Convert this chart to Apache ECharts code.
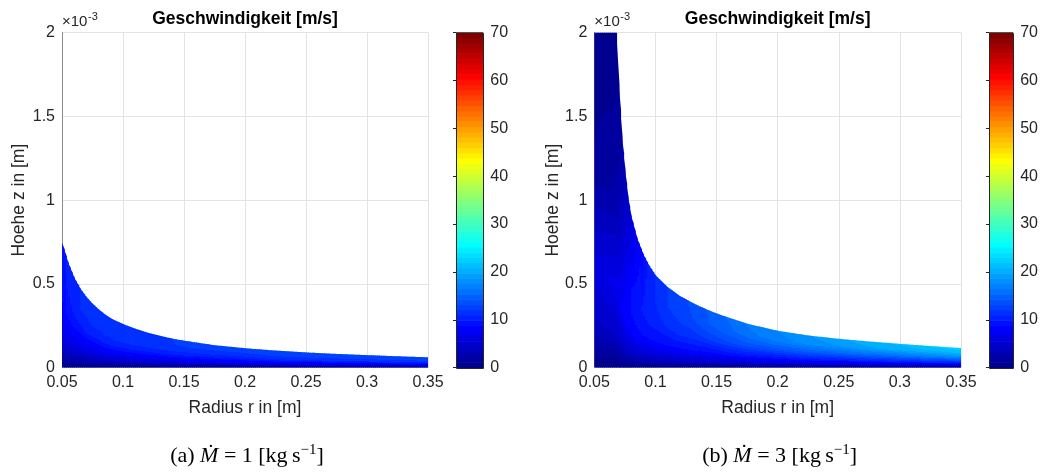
<!DOCTYPE html>
<html><head><meta charset="utf-8">
<script src="https://cdn.jsdelivr.net/npm/echarts@6/dist/echarts.min.js"></script>
<style>html,body{margin:0;padding:0;background:#fff}#c{width:1041px;height:475px}</style>
</head><body><div id="c"></div><script>
// ---------- data ----------
// heights in mm (axis shows x10^-3 m), velocities in m/s
const rTicks = [0.05, 0.1, 0.15, 0.2, 0.25, 0.3, 0.35];
const zTicks = [0, 0.5, 1, 1.5, 2];
const cTicks = [0, 10, 20, 30, 40, 50, 60, 70];
const etaRows = [0, 0.1, 0.25, 0.5, 0.75, 1];   // fraction of local film height

// (a) M = 1 kg/s
const rA = [0.05, 0.055, 0.06, 0.065, 0.07, 0.075, 0.08, 0.085, 0.09, 0.095, 0.1, 0.11, 0.12, 0.13, 0.14, 0.15, 0.175, 0.2, 0.225, 0.25, 0.275, 0.3, 0.325, 0.35];
const hA = [0.745, 0.625, 0.535, 0.47, 0.42, 0.38, 0.347, 0.318, 0.294, 0.276, 0.26, 0.232, 0.209, 0.19, 0.174, 0.161, 0.134, 0.116, 0.102, 0.091, 0.082, 0.075, 0.068, 0.062];
const uA = [
  [0, 3, 6, 8.5, 9.5, 9.5],
  [0, 3, 6.5, 9, 10, 10],
  [0, 3, 6.5, 9.5, 10.5, 10.5],
  [0, 3, 6.5, 9.5, 11, 11],
  [0, 3, 6.5, 10, 11, 11],
  [0, 3, 6.5, 10, 11.5, 11.5],
  [0, 3, 7, 10, 11.5, 11.5],
  [0, 3, 7, 10.5, 11.5, 11.5],
  [0, 3, 7, 10.5, 11.5, 11.5],
  [0, 3, 7, 10.5, 12, 12],
  [0, 3, 7, 10.5, 12, 12],
  [0, 3, 7, 10.5, 12, 12],
  [0, 3, 7, 10.5, 12, 12],
  [0, 3, 7, 10.5, 12, 12],
  [0, 3, 7, 10.5, 12, 12],
  [0, 3, 7, 10.5, 12, 12.5],
  [0, 3, 7, 10.5, 12, 12.5],
  [0, 3, 7, 10.5, 12, 12.5],
  [0, 3, 7, 11, 12.5, 12.5],
  [0, 3, 7, 11, 12.5, 12.5],
  [0, 3, 7, 11, 12.5, 12.5],
  [0, 3, 7, 11, 12.5, 13],
  [0, 3, 7, 11, 12.5, 13],
  [0, 3, 7, 11, 12.5, 13]
];

// (b) M = 3 kg/s
const rB = [0.05, 0.068, 0.07, 0.0725, 0.075, 0.0775, 0.08, 0.085, 0.09, 0.095, 0.1, 0.11, 0.12, 0.13, 0.14, 0.15, 0.16, 0.175, 0.2, 0.225, 0.25, 0.275, 0.3, 0.325, 0.35];
const hB = [2.4, 2.0, 1.69, 1.38, 1.18, 1.015, 0.905, 0.77, 0.675, 0.605, 0.55, 0.479, 0.427, 0.387, 0.353, 0.323, 0.298, 0.262, 0.22, 0.192, 0.172, 0.156, 0.142, 0.129, 0.117];
const uB = [
  [0, 4, 6, 1.3, 0.5, 0.2],
  [0, 4.5, 7, 2.5, 1.2, 0.6],
  [0, 4.5, 7.5, 3.5, 1.8, 1],
  [0, 4.5, 8, 5.5, 3, 2],
  [0, 4.5, 8.5, 7, 4.5, 3],
  [0, 4.5, 8.5, 8, 6, 4.5],
  [0, 4.5, 8.5, 9, 7, 5.5],
  [0, 4.5, 8.5, 9.5, 8.5, 7.5],
  [0, 4.5, 8.5, 10, 9.5, 9],
  [0, 4.5, 8.5, 10.5, 10.5, 10],
  [0, 4.5, 8.5, 10.5, 11, 11],
  [0, 4.5, 8.5, 11, 12, 12],
  [0, 4.5, 8.5, 11.5, 12.5, 12.5],
  [0, 4.5, 8.5, 11.5, 13, 13.5],
  [0, 4.5, 8.5, 12, 14, 14],
  [0, 4.5, 8.5, 12.5, 14.5, 15],
  [0, 4.5, 9, 13, 15, 15.5],
  [0, 4.5, 9, 13.5, 16, 16.5],
  [0, 4.5, 9, 14, 17, 17.5],
  [0, 4.5, 9.5, 14.5, 18, 18.5],
  [0, 4.5, 9.5, 15, 18.5, 19.5],
  [0, 5, 10, 15.5, 19.5, 20.5],
  [0, 5, 10, 16, 20, 21],
  [0, 5, 10.5, 16.5, 20.5, 22],
  [0, 5, 10.5, 17, 21, 22.5]
];

const titleText = 'Geschwindigkeit [m/s]';
const xName = 'Radius r in [m]';
const yName = 'Hoehe z in [m]';
const expBase = '×10', expPow = '-3';
const captions = ['{n|(a) }{it|Ṁ}{n| = 1 [kg\u2009s}{sup|−1}{n|]}', '{n|(b) }{it|Ṁ}{n| = 3 [kg\u2009s}{sup|−1}{n|]}'];

// ---------- colormap (MATLAB jet, 64 levels) ----------
const LEVELS = 64, VMIN = cTicks[0], VMAX = cTicks[cTicks.length - 1];
const JET = (function () {
  const u = [];
  for (let i = 1; i <= 16; i++) u.push(i / 16);
  for (let i = 0; i < 15; i++) u.push(1);
  for (let i = 16; i >= 1; i--) u.push(i / 16);
  const pick = i => (i >= 1 && i <= u.length) ? u[i - 1] : 0;
  const out = [];
  for (let k = 1; k <= LEVELS; k++) {
    const r = pick(k - 24), g = pick(k - 8), b = pick(k + 8);
    out.push('rgb(' + Math.round(r * 255) + ',' + Math.round(g * 255) + ',' + Math.round(b * 255) + ')');
  }
  return out;
})();
function bandColor(v) {
  let k = Math.floor((v - VMIN) / (VMAX - VMIN) * LEVELS);
  k = Math.max(0, Math.min(LEVELS - 1, k));
  return JET[k];
}
function gradientStops(vals) {
  const eps = 1e-6;
  const stops = [{ offset: 0, color: bandColor(vals[0] + eps) }];
  for (let j = 0; j < vals.length - 1; j++) {
    const a = vals[j], b = vals[j + 1];
    if (a === b) continue;
    const lo = Math.min(a, b), hi = Math.max(a, b);
    const lv = [];
    for (let k = 1; k < LEVELS; k++) {
      const L = VMIN + k * (VMAX - VMIN) / LEVELS;
      if (L > lo && L < hi) lv.push(L);
    }
    if (b < a) lv.reverse();
    for (const L of lv) {
      const t = (L - a) / (b - a);
      const e = etaRows[j] + t * (etaRows[j + 1] - etaRows[j]);
      const before = b > a ? bandColor(L - eps) : bandColor(L + eps);
      const after = b > a ? bandColor(L + eps) : bandColor(L - eps);
      stops.push({ offset: e, color: before });
      stops.push({ offset: e, color: after });
    }
  }
  stops.push({ offset: 1, color: bandColor(vals[vals.length - 1] - eps) });
  return stops;
}

const Z_MAX = zTicks[zTicks.length - 1];
function makeRender(rs, hs, us) {
  return function (params, api) {
    const i = params.dataIndex;
    if (i >= rs.length - 1) return { type: 'group', children: [] };
    const r0 = rs[i], r1 = rs[i + 1];
    const pA = api.coord([r0, 0]), pB = api.coord([r1, 0]);
    const N = Math.max(1, Math.round((pB[0] - pA[0]) / 2));
    const children = [];
    for (let s = 0; s < N; s++) {
      const f0 = s / N, f1 = (s + 1) / N, fm = (f0 + f1) / 2;
      const rl = r0 + (r1 - r0) * f0, rr = r0 + (r1 - r0) * f1, rm = (rl + rr) / 2;
      const hl = hs[i] + (hs[i + 1] - hs[i]) * f0;
      const hr = hs[i] + (hs[i + 1] - hs[i]) * f1;
      const hm = (hl + hr) / 2;
      const vals = us[i].map((v, j) => v * (1 - fm) + us[i + 1][j] * fm);
      const bl = api.coord([rl, 0]), br = api.coord([rr, 0]);
      const tr = api.coord([rr, Math.min(hr, Z_MAX)]), tl = api.coord([rl, Math.min(hl, Z_MAX)]);
      const extra = (i < rs.length - 2 || s < N - 1) ? 0.8 : 0;
      const g0 = api.coord([rm, 0]), g1 = api.coord([rm, hm]);
      children.push({
        type: 'polygon',
        shape: { points: [[bl[0], bl[1]], [br[0] + extra, br[1]], [tr[0] + extra, tr[1]], [tl[0], tl[1]]] },
        style: {
          fill: { type: 'linear', x: 0, y: g0[1], x2: 0, y2: g1[1], global: true, colorStops: gradientStops(vals) }
        },
        silent: true
      });
    }
    return { type: 'group', children: children };
  };
}

function bandRender(params, api) {
  const k = api.value(0);
  const lo = api.coord([0, VMIN + k * (VMAX - VMIN) / LEVELS]);
  const hi = api.coord([1, VMIN + (k + 1) * (VMAX - VMIN) / LEVELS]);
  return { type: 'rect', shape: { x: lo[0], y: hi[1] - 0.3, width: hi[0] - lo[0], height: lo[1] - hi[1] + 0.6 }, style: { fill: JET[k] }, silent: true };
}
function borderRender(params, api) {
  const a = api.coord([0, VMIN]), b = api.coord([1, VMAX]);
  return { type: 'rect', shape: { x: Math.round(a[0]) + 0.5, y: Math.round(b[1]) + 0.5, width: Math.round(b[0] - a[0]), height: Math.round(a[1] - b[1]) },
    style: { fill: 'none', stroke: '#262626', lineWidth: 1 }, silent: true };
}

// ---------- layout ----------
const FONT = 'Liberation Sans, Arial, Helvetica, sans-serif';
const SERIF = 'Liberation Serif, DejaVu Serif, serif';
const TXT = '#262626';
const plots = [
  { left: 62, width: 366, cbLeft: 456, ylab: 19, r: rA, h: hA, u: uA },
  { left: 594.3, width: 366.7, cbLeft: 989, ylab: 553, r: rB, h: hB, u: uB }
];
const TOP = 32.5, HEIGHT = 335.2, CBW = 27.3;

const grid = [], xAxis = [], yAxis = [], series = [], graphic = [];
plots.forEach((p, n) => {
  const gi = grid.length;
  grid.push({ left: p.left, top: TOP, width: p.width, height: HEIGHT, containLabel: false });
  grid.push({ left: p.cbLeft, top: TOP, width: CBW, height: HEIGHT, containLabel: false });
  xAxis.push({
    gridIndex: gi, type: 'value', min: rTicks[0], max: rTicks[rTicks.length - 1], interval: rTicks[1] - rTicks[0],
    axisLine: { show: true, lineStyle: { color: '#c4c4d0', width: 1 } },
    axisTick: { show: false },
    axisLabel: { show: true, color: TXT, fontSize: 16, fontFamily: FONT, margin: 7, showMinLabel: true, showMaxLabel: true,
      formatter: v => String(+v.toFixed(2)) },
    splitLine: { show: true, lineStyle: { color: '#e3e3e3', width: 1 } }
  });
  xAxis.push({ gridIndex: gi + 1, type: 'value', min: 0, max: 1, show: false });
  yAxis.push({
    gridIndex: gi, type: 'value', min: zTicks[0], max: Z_MAX, interval: zTicks[1] - zTicks[0],
    axisLine: { show: true, lineStyle: { color: '#8a8a8a', width: 1 } },
    axisTick: { show: false },
    axisLabel: { show: true, color: TXT, fontSize: 16, fontFamily: FONT, margin: 7, showMinLabel: true, showMaxLabel: true,
      formatter: v => String(+v.toFixed(2)) },
    splitLine: { show: true, lineStyle: { color: '#e3e3e3', width: 1 } }
  });
  yAxis.push({
    gridIndex: gi + 1, type: 'value', position: 'right', min: VMIN, max: VMAX, interval: cTicks[1] - cTicks[0], z: 5,
    axisLine: { show: false },
    axisTick: { show: true, inside: true, length: 3, lineStyle: { color: TXT } },
    axisLabel: { show: true, color: TXT, fontSize: 16, fontFamily: FONT, margin: 7, showMinLabel: true, showMaxLabel: true },
    splitLine: { show: false }
  });
  series.push({
    type: 'custom', xAxisIndex: gi, yAxisIndex: gi, clip: true, silent: true,
    data: p.r.map((r, i) => [r, p.h[i]]), renderItem: makeRender(p.r, p.h, p.u)
  });
  series.push({
    type: 'custom', xAxisIndex: gi + 1, yAxisIndex: gi + 1, silent: true,
    data: JET.map((c, k) => [k]), renderItem: bandRender
  });
  series.push({
    type: 'custom', xAxisIndex: gi + 1, yAxisIndex: gi + 1, silent: true, z: 4,
    data: [[0]], renderItem: borderRender
  });
  const cx = p.left + p.width / 2;
  graphic.push({ type: 'text', x: cx, y: 19, silent: true,
    style: { text: titleText, align: 'center', verticalAlign: 'middle', fontSize: 17.5, fontWeight: 'bold', fontFamily: FONT, fill: '#000' } });
  graphic.push({ type: 'text', x: p.left, y: 29, silent: true,
    style: { text: expBase, align: 'left', verticalAlign: 'bottom', fontSize: 15, fontFamily: FONT, fill: TXT } });
  graphic.push({ type: 'text', x: p.left + 26, y: 22, silent: true,
    style: { text: expPow, align: 'left', verticalAlign: 'bottom', fontSize: 11, fontFamily: FONT, fill: TXT } });
  graphic.push({ type: 'text', x: cx, y: 408, silent: true,
    style: { text: xName, align: 'center', verticalAlign: 'middle', fontSize: 17.5, fontFamily: FONT, fill: TXT } });
  graphic.push({ type: 'text', x: p.ylab, y: TOP + HEIGHT / 2, rotation: Math.PI / 2, silent: true,
    style: { text: yName, align: 'center', verticalAlign: 'middle', fontSize: 17.5, fontFamily: FONT, fill: TXT } });
  graphic.push({ type: 'text', x: cx + 2, y: 455, silent: true,
    style: { text: captions[n], align: 'center', verticalAlign: 'middle', fill: '#000',
      rich: { n: { fontSize: 22, fontFamily: SERIF, fill: '#000', verticalAlign: 'bottom' },
              it: { fontSize: 22, fontStyle: 'italic', fontFamily: SERIF, fill: '#000', verticalAlign: 'bottom' },
              sup: { fontSize: 15, fontFamily: SERIF, fill: '#000', verticalAlign: 'top', padding: [0, 0, 10, 0] } } } });
});

const chart = echarts.init(document.getElementById('c'), null, { renderer: 'canvas' });
chart.setOption({
  animation: false,
  backgroundColor: '#fff',
  grid, xAxis, yAxis, series, graphic
});
</script></body></html>
